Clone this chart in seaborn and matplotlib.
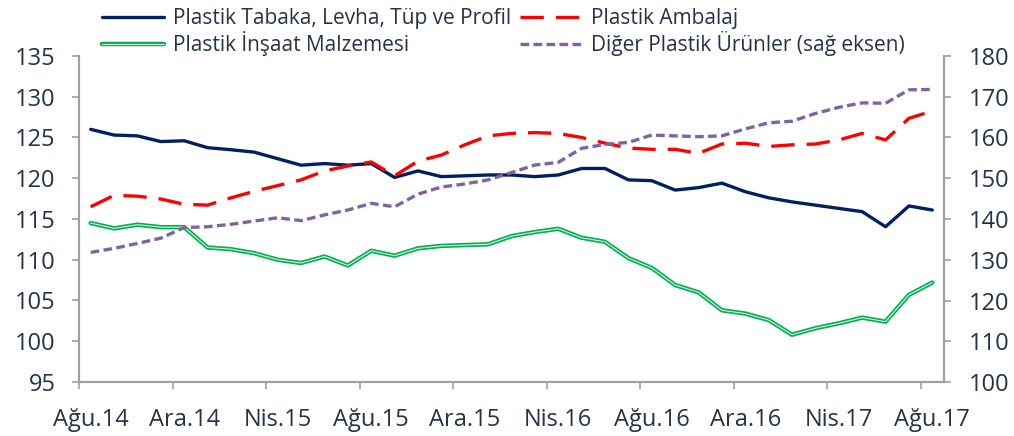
import matplotlib
matplotlib.use("Agg")
import matplotlib.pyplot as plt
import matplotlib.patheffects as pe
import seaborn as sns
import pandas as pd

# Monthly index values, Aug 2014 - Aug 2017
months = ["Ağu.14", "Eyl.14", "Eki.14", "Kas.14", "Ara.14", "Oca.15", "Şub.15", "Mar.15",
          "Nis.15", "May.15", "Haz.15", "Tem.15", "Ağu.15", "Eyl.15", "Eki.15", "Kas.15",
          "Ara.15", "Oca.16", "Şub.16", "Mar.16", "Nis.16", "May.16", "Haz.16", "Tem.16",
          "Ağu.16", "Eyl.16", "Eki.16", "Kas.16", "Ara.16", "Oca.17", "Şub.17", "Mar.17",
          "Nis.17", "May.17", "Haz.17", "Tem.17", "Ağu.17"]

tabaka = [126.0, 125.3, 125.2, 124.5, 124.6, 123.75, 123.5, 123.2, 122.4, 121.6,
          121.8, 121.6, 121.8, 120.1, 120.9, 120.2, 120.3, 120.4, 120.4, 120.2,
          120.4, 121.2, 121.2, 119.8, 119.7, 118.55, 118.85, 119.4, 118.35, 117.6,
          117.1, 116.7, 116.3, 115.9, 114.05, 116.6, 116.1]

ambalaj = [116.5, 117.9, 117.8, 117.45, 116.8, 116.7, 117.6, 118.4, 119.1, 119.8,
           120.9, 121.5, 122.0, 120.3, 122.1, 122.85, 124.1, 125.2, 125.5, 125.6,
           125.5, 125.0, 124.3, 123.7, 123.55, 123.55, 123.05, 124.2, 124.3, 123.9,
           124.1, 124.2, 124.7, 125.5, 124.7, 127.35, 128.25]

insaat = [114.5, 113.85, 114.3, 114.0, 114.0, 111.5, 111.3, 110.8, 110.0, 109.6,
          110.4, 109.3, 111.1, 110.5, 111.4, 111.7, 111.8, 111.9, 112.9, 113.4,
          113.8, 112.7, 112.2, 110.2, 109.0, 106.9, 106.0, 103.8, 103.4, 102.6,
          100.8, 101.6, 102.2, 102.9, 102.4, 105.7, 107.2]

diger = [131.8, 132.8, 134.0, 135.3, 137.9, 138.1, 138.7, 139.5, 140.3, 139.6,
         141.0, 142.2, 143.85, 143.0, 146.1, 147.85, 148.6, 149.6, 151.4, 153.25,
         153.9, 157.35, 158.3, 158.8, 160.6, 160.4, 160.2, 160.4, 162.1, 163.6,
         164.0, 165.9, 167.4, 168.5, 168.4, 171.7, 171.8]

labels = ["Plastik Tabaka, Levha, Tüp ve Profil", "Plastik Ambalaj",
          "Plastik İnşaat Malzemesi", "Diğer Plastik Ürünler (sağ eksen)"]

df = pd.DataFrame({"x": range(len(months)), "tabaka": tabaka, "ambalaj": ambalaj,
                   "insaat": insaat, "diger": diger})

sns.set_style("white")
plt.rcParams["font.family"] = ["Open Sans", "DejaVu Sans"]
text_col = "#24324a"
axis_col = "#a0a0a0"

fig = plt.figure(figsize=(10.14, 4.36), dpi=100)
ax = fig.add_axes([79 / 1014, 1 - 382 / 436, (944 - 79) / 1014, (382 - 56) / 436])
ax2 = ax.twinx()

lw = 2.4
sns.lineplot(data=df, x="x", y="tabaka", ax=ax, color="#002060", linewidth=lw, label=labels[0])
l_amb = sns.lineplot(data=df, x="x", y="ambalaj", ax=ax, color="#ff0000", linewidth=lw,
                     label=labels[1]).lines[-1]
l_amb.set_dashes((7, 3.6))
l_ins = sns.lineplot(data=df, x="x", y="insaat", ax=ax, color="#d9f5e2", linewidth=0.8,
                     label=labels[2]).lines[-1]
l_ins.set_path_effects([pe.Stroke(linewidth=3.2, foreground="#00b050"), pe.Normal()])
l_dig = sns.lineplot(data=df, x="x", y="diger", ax=ax2, color="#8064a2", linewidth=lw,
                     label=labels[3]).lines[-1]
l_dig.set_dashes((2.6, 1.3))

h1, lab1 = ax.get_legend_handles_labels()
h2, lab2 = ax2.get_legend_handles_labels()
ax.get_legend().remove()
ax2.get_legend().remove()
handles = [h1[0], h1[2], h1[1], h2[0]]
leg_labels = [lab1[0], lab1[2], lab1[1], lab2[0]]
fig.legend(handles, leg_labels, ncol=2, loc="upper left", bbox_to_anchor=(83 / 1014, 1.025),
           frameon=False, fontsize=15, handlelength=3.0, handletextpad=0.4,
           columnspacing=0.45, labelspacing=0.12, labelcolor=text_col)

ax.set_xlim(-0.5, 36.5)
ax.set_ylim(95, 135)
ax.set_yticks(range(95, 136, 5))
ax2.set_ylim(100, 180)
ax2.set_yticks(range(100, 181, 10))

ax.set_xticks(range(0, 37, 4))
ax.set_xticklabels(months[::4])
ax.set_xticks([i - 0.5 for i in range(0, 37, 4)], minor=True)
ax.tick_params(axis="x", which="major", length=0, pad=19, labelsize=17, labelcolor=text_col)
ax.tick_params(axis="x", which="minor", length=5, width=1.2, color=axis_col, bottom=True)
ax.tick_params(axis="y", length=5, width=1.2, color=axis_col, pad=12, labelsize=17,
               labelcolor=text_col, left=True)
ax2.tick_params(axis="y", length=5, width=1.2, color=axis_col, pad=13, labelsize=17,
                labelcolor=text_col, right=True)

ax.set_xlabel("")
ax.set_ylabel("")
ax2.set_ylabel("")
for a in (ax, ax2):
    a.spines["top"].set_visible(False)
    for s in ("left", "right", "bottom"):
        a.spines[s].set_color(axis_col)
        a.spines[s].set_linewidth(1.5)
    a.grid(False)

fig.savefig("out.png", dpi=100)
